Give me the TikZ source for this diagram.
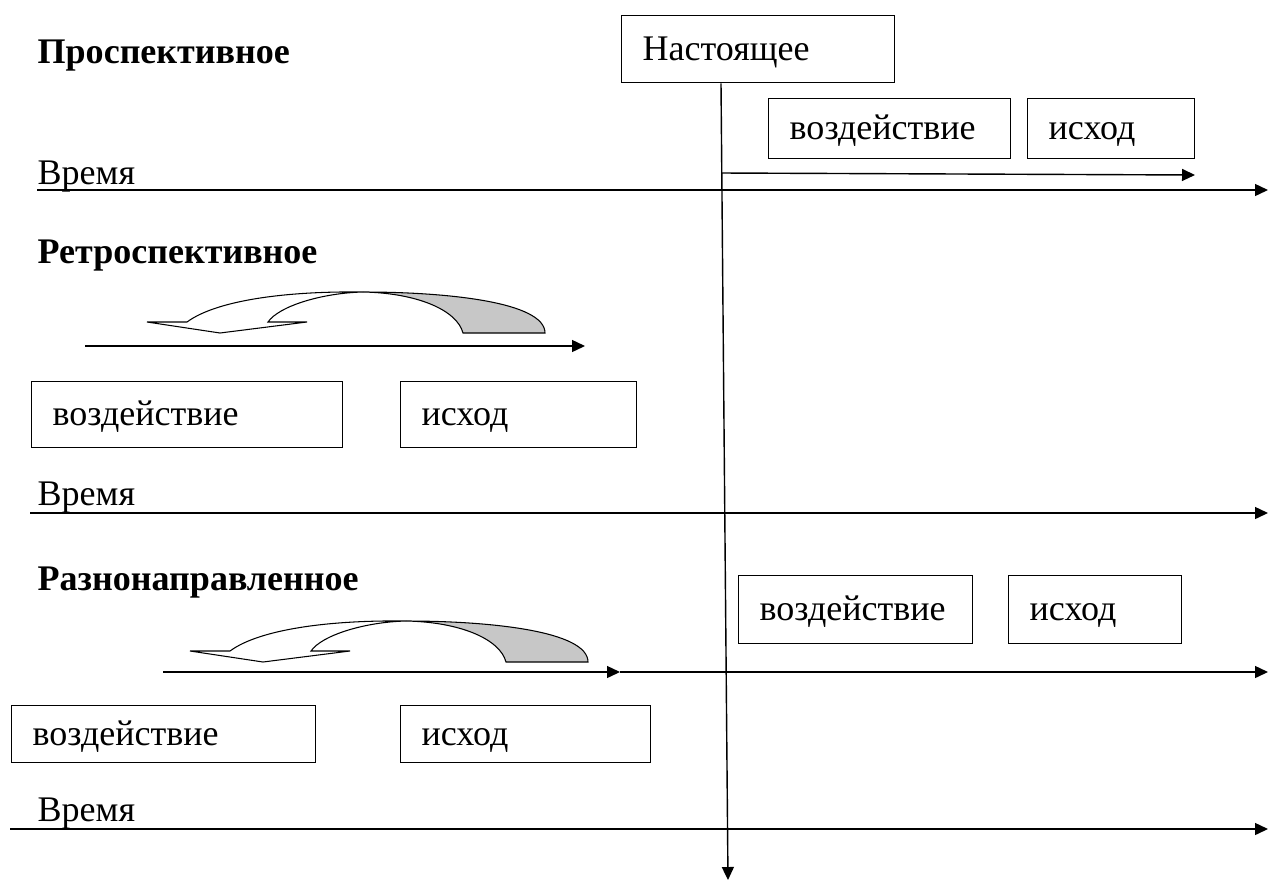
\documentclass[tikz,border=0pt]{standalone}
\usepackage{fontspec}
\setmainfont{Liberation Serif}
\usetikzlibrary{arrows.meta}

\begin{document}
\begin{tikzpicture}[x=0.02cm, y=-0.02cm, line width=0.8pt,
    every node/.style={font=\fontsize{20.5}{24}\selectfont},
    head/.style={font=\fontsize{20.5}{24}\selectfont\bfseries, anchor=base west, inner sep=0pt},
    lbl/.style={anchor=base west, inner sep=0pt},
    box/.style={draw, anchor=north west, align=left, inner xsep=0.42cm, inner ysep=0pt,
      text height=16pt, text depth=3.4pt},
    axis/.style={-{Triangle[length=0.26cm, width=0.24cm]}},
    backturn/.pic={
      % back side of the turn
      \filldraw[fill=black!22, line width=0.6pt] (216,-30) .. controls (300,-30) and (398,-20) .. (398,11)
        -- (316,11) .. controls (310,-12) and (270,-29) .. (216,-30) -- cycle;
      % front side with the head
      \filldraw[fill=white, line width=0.6pt] (40,0) .. controls (70,-22) and (140,-31) .. (216,-30)
        .. controls (175,-29) and (132,-16) .. (121,0) -- (160,0) -- (73,11) -- (0,0) -- cycle;
    }]
    \useasboundingbox (0,0) rectangle (1268,883);

    % present moment
    \node[box, text width=4.62cm, minimum height=1.34cm] (nast) at (621,15) {Настоящее};
    \coordinate (nowend) at (728,880);
    \draw[axis] (nast.south west) ++(100,0) -- (nowend);

    % prospective
    \node[head] (prosp) at (37,63) {Проспективное};
    \node[box, text width=4.0cm, minimum height=1.2cm] (vozA) at (768,98) {воздействие};
    \node[box, text width=2.5cm, minimum height=1.2cm] (iskA) at (1027,98) {исход};
    \coordinate (pA0) at (721,173);
    \coordinate (pA1) at (1195,175);
    \draw[axis] (pA0) -- (pA1);
    \node[lbl] (vremA) at (37,184) {Время};
    \coordinate (tA0) at (37,190);
    \coordinate (tA1) at (1268,190);
    \draw[axis] (tA0) -- (tA1);

    % retrospective
    \node[head] (retro) at (37,263) {Ретроспективное};
    \pic at (147,322) {backturn};
    \coordinate (rA0) at (85,346);
    \coordinate (rA1) at (585,346);
    \draw[axis] (rA0) -- (rA1);
    \node[box, text width=5.38cm, minimum height=1.32cm] (vozB) at (31,381) {воздействие};
    \node[box, text width=3.88cm, minimum height=1.32cm] (iskB) at (400,381) {исход};
    \node[lbl] (vremB) at (37,505) {Время};
    \coordinate (tB0) at (30,513);
    \coordinate (tB1) at (1268,513);
    \draw[axis] (tB0) -- (tB1);

    % multidirectional
    \node[head] (razn) at (37,590) {Разнонаправленное};
    \node[box, text width=3.84cm, minimum height=1.36cm] (vozC) at (738,575) {воздействие};
    \node[box, text width=2.62cm, minimum height=1.36cm] (iskC) at (1008,575) {исход};
    \pic at (190,651) {backturn};
    \coordinate (rB0) at (163,672);
    \coordinate (rB1) at (620,672);
    \coordinate (rB2) at (1268,672);
    \draw[axis] (rB0) -- (rB1);
    \draw[axis] (rB1) -- (rB2);
    \node[box, text width=5.24cm, minimum height=1.14cm] (vozD) at (11,705) {воздействие};
    \node[box, text width=4.16cm, minimum height=1.14cm] (iskD) at (400,705) {исход};
    \node[lbl] (vremC) at (37,821) {Время};
    \coordinate (tC0) at (10,829);
    \coordinate (tC1) at (1268,829);
    \draw[axis] (tC0) -- (tC1);
\end{tikzpicture}
\end{document}
